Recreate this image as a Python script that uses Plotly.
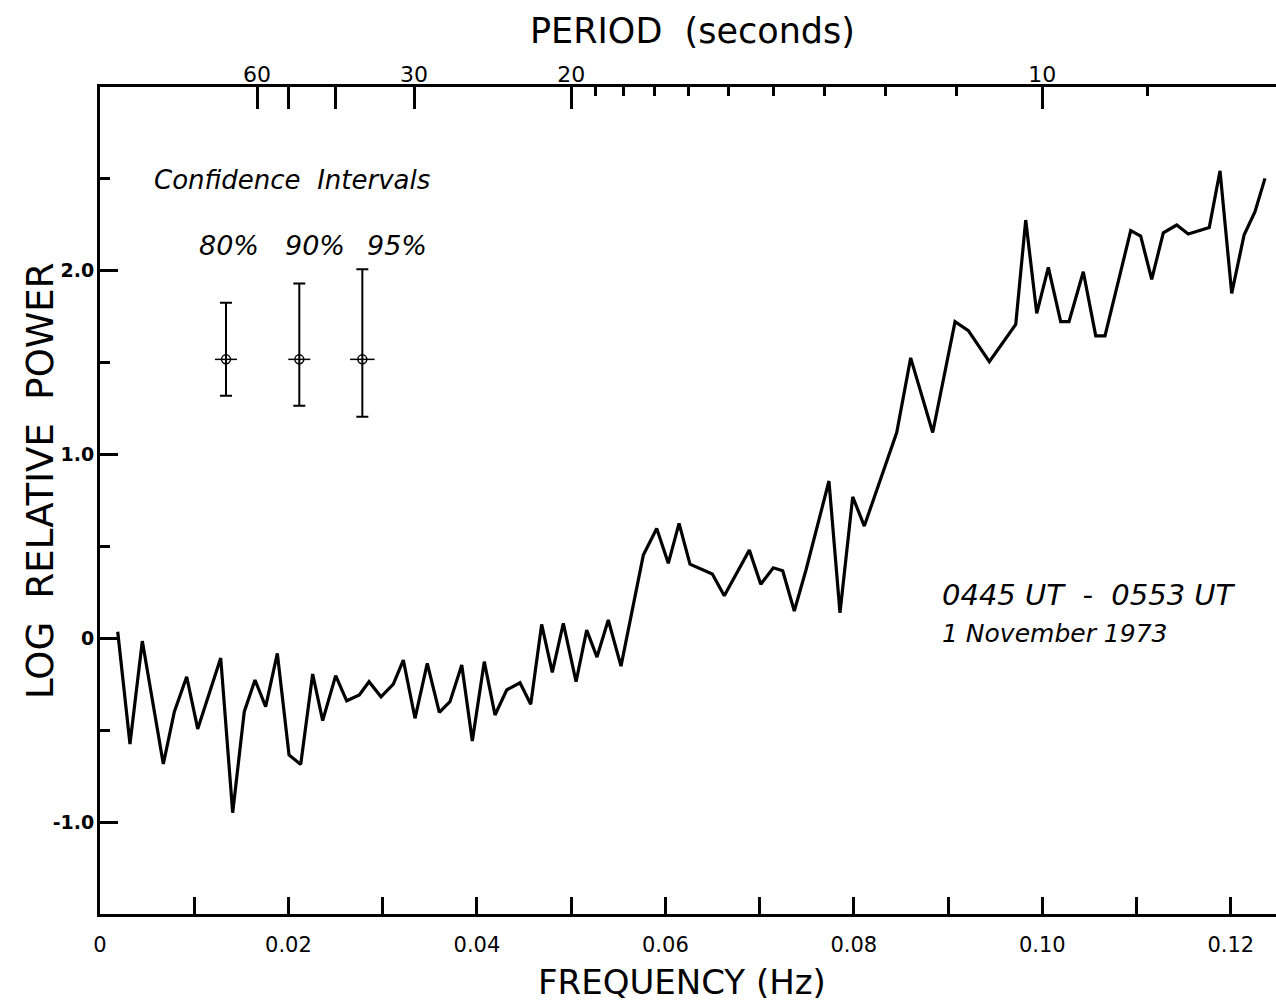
import plotly.graph_objects as go

# ---- spectrum ----
freq_hz = [
    0.00188, 0.00318, 0.00449, 0.00672, 0.00789, 0.00920, 0.01037, 0.01281, 0.01408, 0.01531,
    0.01645, 0.01758, 0.01882, 0.02006, 0.02130, 0.02257, 0.02363, 0.02501, 0.02618, 0.02752,
    0.02855, 0.02982, 0.03113, 0.03219, 0.03343, 0.03473, 0.03601, 0.03714, 0.03839, 0.03951,
    0.04078, 0.04192, 0.04316, 0.04457, 0.04571, 0.04687, 0.04800, 0.04917, 0.05052, 0.05165,
    0.05274, 0.05394, 0.05529, 0.05766, 0.05908, 0.06031, 0.06145, 0.06261, 0.06498, 0.06625,
    0.06891, 0.07012, 0.07145, 0.07245, 0.07368, 0.07492, 0.07736, 0.07853, 0.07988, 0.08111,
    0.08455, 0.08603, 0.08837, 0.09074, 0.09215, 0.09438, 0.09718, 0.09824, 0.09941, 0.10064,
    0.10195, 0.10283, 0.10435, 0.10567, 0.10665, 0.10789, 0.10938, 0.11044, 0.11161, 0.11284,
    0.11426, 0.11549, 0.11772, 0.11886, 0.12010, 0.12141, 0.12257, 0.12363,
]
log_power = [
    0.036, -0.575, -0.015, -0.684, -0.399, -0.209, -0.493, -0.107, -0.949, -0.399,
    -0.227, -0.372, -0.082, -0.635, -0.686, -0.194, -0.448, -0.203, -0.340, -0.308,
    -0.236, -0.318, -0.249, -0.118, -0.435, -0.136, -0.403, -0.345, -0.145, -0.559,
    -0.127, -0.417, -0.281, -0.242, -0.359, 0.076, -0.185, 0.082, -0.236, 0.045,
    -0.102, 0.100, -0.151, 0.453, 0.598, 0.408, 0.626, 0.404, 0.350, 0.232,
    0.480, 0.294, 0.384, 0.368, 0.149, 0.372, 0.856, 0.139, 0.770, 0.611,
    1.120, 1.526, 1.120, 1.723, 1.674, 1.505, 1.708, 2.276, 1.768, 2.019,
    1.723, 1.723, 1.995, 1.646, 1.646, 1.904, 2.218, 2.189, 1.953, 2.207,
    2.249, 2.200, 2.236, 2.544, 1.877, 2.194, 2.321, 2.503,
]

# ---- confidence interval glyphs ----
ci_labels = ["80%", "90%", "95%"]
ci_freq = [0.01337, 0.02115, 0.02784]
ci_center = [1.518, 1.518, 1.518]
ci_upper = [1.826, 1.931, 2.008]
ci_lower = [1.320, 1.266, 1.206]
ci_halfwidth = [0.00117, 0.00117, 0.00130]

# ---- ticks ----
x_tick_vals = [0, 0.02, 0.04, 0.06, 0.08, 0.10, 0.12]
x_tick_text = ["0", "0.02", "0.04", "0.06", "0.08", "0.10", "0.12"]
x_minor_vals = [0.01, 0.03, 0.05, 0.07, 0.09, 0.11]
y_tick_vals = [-1, 0, 1, 2]
y_tick_text = ["-1.0", "0", "1.0", "2.0"]
y_minor_vals = [-0.5, 0.5, 1.5, 2.5]
period_major = [60, 50, 40, 30, 20, 10]
period_major_text = ["60", "", "", "30", "20", "10"]
period_minor = [19, 18, 17, 16, 15, 14, 13, 12, 11, 9]

X_RANGE = [0, 0.1248]
Y_RANGE = [-1.5, 3.0]
W, H = 1276, 1002
ML, MR, MT, MB = 100, 0, 87, 88
FONT = "DejaVu Sans"


def px_x(px):
    return (px - ML) / (W - ML - MR)


def px_y(py):
    return (H - MB - py) / (H - MT - MB)


fig = go.Figure()

fig.add_trace(go.Scatter(
    x=freq_hz, y=log_power, mode="lines",
    line=dict(color="black", width=3.2),
    showlegend=False, hoverinfo="skip",
))

fig.add_trace(go.Scatter(
    x=ci_freq, y=ci_center, mode="markers",
    marker=dict(symbol="circle-open", size=9, color="black", line=dict(width=1.5)),
    error_y=dict(type="data", symmetric=False,
                 array=[u - c for u, c in zip(ci_upper, ci_center)],
                 arrayminus=[c - l for c, l in zip(ci_center, ci_lower)],
                 color="black", thickness=2, width=6),
    error_x=dict(type="data", array=ci_halfwidth, color="black", thickness=1.5, width=0),
    showlegend=False, hoverinfo="skip",
))

# invisible trace so the top (period) axis is bound to the subplot
fig.add_trace(go.Scatter(
    x=freq_hz, y=log_power, xaxis="x2", mode="lines",
    line=dict(width=0), opacity=0, showlegend=False, hoverinfo="skip",
))

fig.update_layout(
    width=W, height=H,
    margin=dict(l=ML, r=MR, t=MT, b=MB),
    paper_bgcolor="white", plot_bgcolor="white",
    font=dict(family=FONT, color="black"),
    xaxis=dict(
        range=X_RANGE, showgrid=False, zeroline=False,
        showline=True, linecolor="black", linewidth=3,
        ticks="inside", ticklen=17, tickwidth=2.5, tickcolor="black",
        tickmode="array", tickvals=x_tick_vals, ticktext=x_tick_text,
        tickfont=dict(size=21, family=FONT), ticklabelstandoff=10,
        minor=dict(tickmode="array", tickvals=x_minor_vals, ticks="inside",
                   ticklen=17, tickwidth=2.5, tickcolor="black"),
    ),
    xaxis2=dict(
        range=X_RANGE, overlaying="x", side="top", anchor="y",
        showgrid=False, zeroline=False,
        showline=True, linecolor="black", linewidth=3,
        ticks="inside", ticklen=22, tickwidth=2.5, tickcolor="black",
        tickmode="array", tickvals=[1.0 / p for p in period_major], ticktext=period_major_text,
        tickfont=dict(size=22, family=FONT), ticklabelstandoff=-7,
        minor=dict(tickmode="array", tickvals=[1.0 / p for p in period_minor], ticks="inside",
                   ticklen=9, tickwidth=2.5, tickcolor="black"),
    ),
    yaxis=dict(
        range=Y_RANGE, showgrid=False, zeroline=False,
        showline=True, linecolor="black", linewidth=3,
        ticks="inside", ticklen=18, tickwidth=2.5, tickcolor="black",
        tickmode="array", tickvals=y_tick_vals, ticktext=y_tick_text,
        tickfont=dict(size=19, family=FONT, weight="bold"), ticklabelstandoff=-1,
        minor=dict(tickmode="array", tickvals=y_minor_vals, ticks="inside",
                   ticklen=10, tickwidth=2.5, tickcolor="black"),
    ),
)

annotations = [
    dict(text="PERIOD\u00a0\u00a0(seconds)", x=px_x(692), y=px_y(31), size=35, angle=0, xa="center"),
    dict(text="FREQUENCY\u00a0(Hz)", x=px_x(682), y=px_y(982), size=34, angle=0, xa="center"),
    dict(text="LOG\u00a0\u00a0RELATIVE\u00a0\u00a0POWER", x=px_x(40), y=px_y(481), size=37, angle=-90, xa="center"),
    dict(text="<i>Confidence\u00a0\u00a0Intervals</i>", x=px_x(292), y=px_y(180), size=26, angle=0, xa="center"),
    dict(text="<i>0445\u00a0UT\u00a0\u00a0-\u00a0\u00a00553\u00a0UT</i>", x=px_x(940), y=px_y(595), size=29, angle=0, xa="left"),
    dict(text="<i>1\u00a0November\u00a01973</i>", x=px_x(940), y=px_y(633), size=25, angle=0, xa="left"),
]
ci_label_px = [229, 315, 397]
for lab, cx in zip(ci_labels, ci_label_px):
    annotations.append(dict(text="<i>" + lab + "</i>", x=px_x(cx), y=px_y(245), size=27, angle=0, xa="center"))

for a in annotations:
    fig.add_annotation(
        text=a["text"], xref="paper", yref="paper", x=a["x"], y=a["y"],
        xanchor=a["xa"], yanchor="middle", textangle=a["angle"],
        showarrow=False, font=dict(size=a["size"], family=FONT, color="black"),
    )

fig.write_html("out.html")
